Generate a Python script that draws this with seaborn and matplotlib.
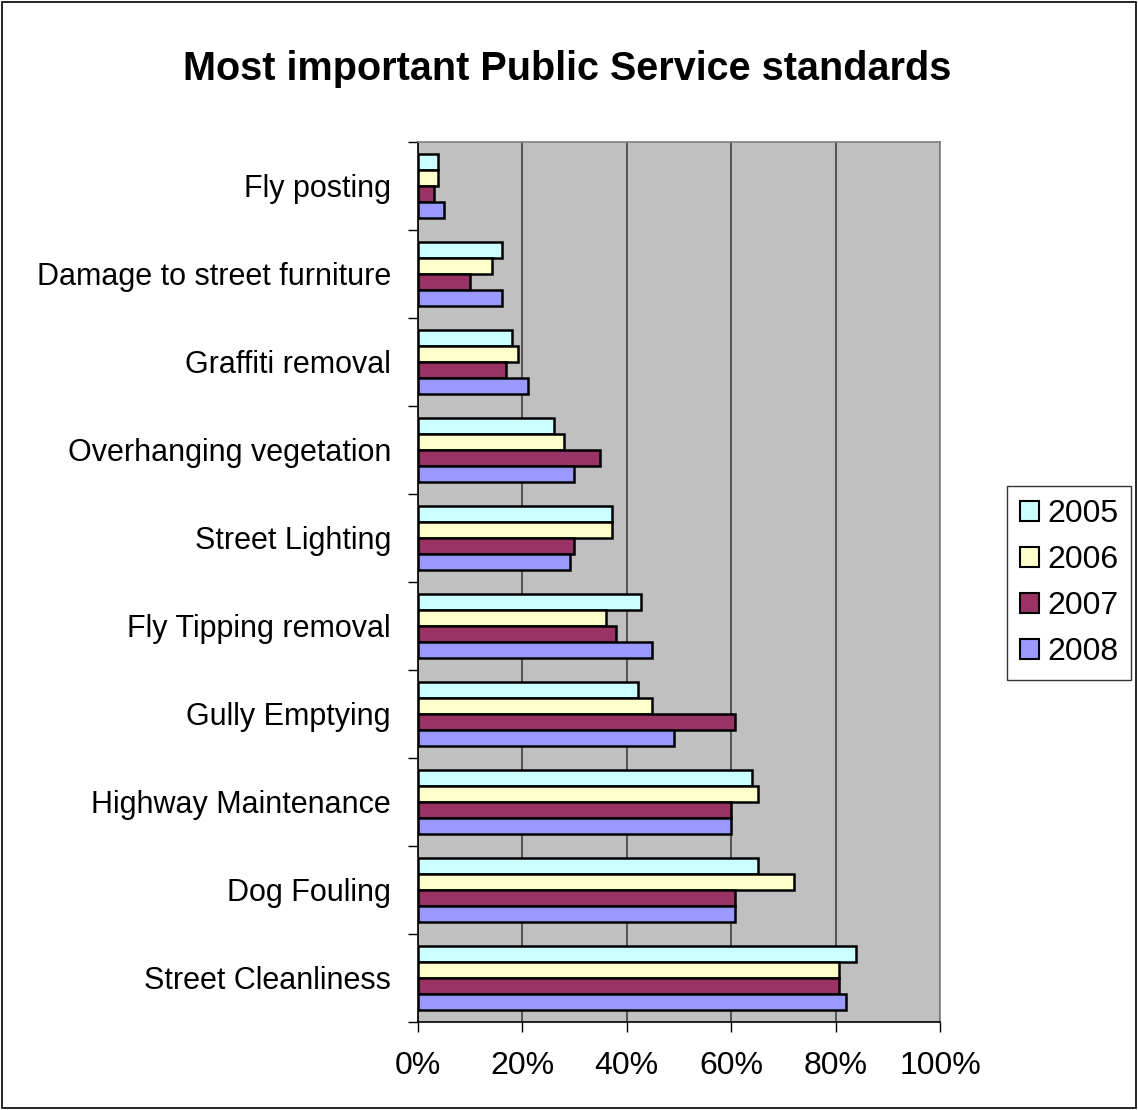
import matplotlib
matplotlib.use("Agg")
import matplotlib.pyplot as plt
from matplotlib.patches import Rectangle
from matplotlib.ticker import FixedLocator, PercentFormatter
import seaborn as sns
import pandas as pd

categories = ["Fly posting", "Damage to street furniture", "Graffiti removal",
              "Overhanging vegetation", "Street Lighting", "Fly Tipping removal",
              "Gully Emptying", "Highway Maintenance", "Dog Fouling",
              "Street Cleanliness"]
years = ["2005", "2006", "2007", "2008"]
v2005 = [3.8, 16.1, 18.0, 26.0, 37.1, 42.8, 42.1, 63.9, 65.1, 83.9]
v2006 = [3.8, 14.1, 19.1, 27.9, 37.1, 36.0, 44.8, 65.1, 72.0, 80.7]
v2007 = [3.0, 10.0, 16.9, 34.8, 29.8, 37.9, 60.8, 60.0, 60.8, 80.7]
v2008 = [4.9, 16.1, 21.0, 29.8, 29.1, 44.8, 49.0, 60.0, 60.8, 81.9]
colors = ["#CCFFFF", "#FFFFCC", "#993366", "#9999FF"]

rows = []
for yr, vals in zip(years, [v2005, v2006, v2007, v2008]):
    for c, v in zip(categories, vals):
        rows.append({"category": c, "year": yr, "value": v})
df = pd.DataFrame(rows)

sns.set_theme(style="white")
plt.rcParams["font.family"] = ["Liberation Sans", "DejaVu Sans"]
plt.rcParams["text.color"] = "black"
plt.rcParams["xtick.labelcolor"] = "black"
plt.rcParams["ytick.labelcolor"] = "black"

fig = plt.figure(figsize=(11.38, 11.10), dpi=100)
ax = fig.add_axes([418/1138, 1-1022/1110, (940-418)/1138, (1022-142)/1110])
ax.set_facecolor("#C0C0C0")

sns.barplot(data=df, x="value", y="category", hue="year", order=categories,
            hue_order=years, palette=colors, orient="h", width=0.727,
            edgecolor="black", linewidth=1.8, ax=ax, errorbar=None,
            saturation=1, zorder=3)

ax.set_xlim(0, 100)
ax.set_ylim(9.5, -0.5)
ax.xaxis.set_major_locator(FixedLocator([0, 20, 40, 60, 80, 100]))
ax.xaxis.set_major_formatter(PercentFormatter(decimals=0))
ax.grid(axis="x", color="#4a4a4a", linewidth=1.3, zorder=0)
ax.set_axisbelow(True)
ax.set_xlabel("")
ax.set_ylabel("")

ax.tick_params(axis="x", which="major", direction="out", length=7, width=1,
               color="black", labelsize=23, labelcolor="black", pad=14, bottom=True)
ax.tick_params(axis="y", which="major", length=0, labelsize=22,
               labelcolor="black", pad=19.5)
ax.yaxis.set_minor_locator(FixedLocator([i - 0.5 for i in range(11)]))
ax.tick_params(axis="y", which="minor", direction="out", length=7, width=1,
               color="black", left=True)

for side in ["left", "bottom"]:
    ax.spines[side].set_color("black")
    ax.spines[side].set_linewidth(1.2)
for side in ["top", "right"]:
    ax.spines[side].set_color("#808080")
    ax.spines[side].set_linewidth(1.2)

leg = ax.legend(loc="center left", bbox_to_anchor=(1007/1138, 1-583/1110),
                bbox_transform=fig.transFigure, fontsize=23, frameon=True,
                fancybox=False, edgecolor="black", handlelength=0.6,
                handleheight=0.6, handletextpad=0.25, labelspacing=0.5,
                borderpad=0.4, borderaxespad=0)
leg.get_frame().set_linewidth(1.0)
for t in leg.get_texts():
    t.set_color("black")
for h in leg.legend_handles:
    h.set_edgecolor("black")
    h.set_linewidth(1.5)

fig.text(567/1138, 1-69/1110, "Most important Public Service standards",
         ha="center", va="center", fontsize=28.5, fontweight="bold",
         color="black")

fig.patches.append(Rectangle((0.002, 0.002), 0.996, 0.996, transform=fig.transFigure,
                             fill=False, edgecolor="black", linewidth=1.2))

fig.savefig("out.png", dpi=100, facecolor="white")
